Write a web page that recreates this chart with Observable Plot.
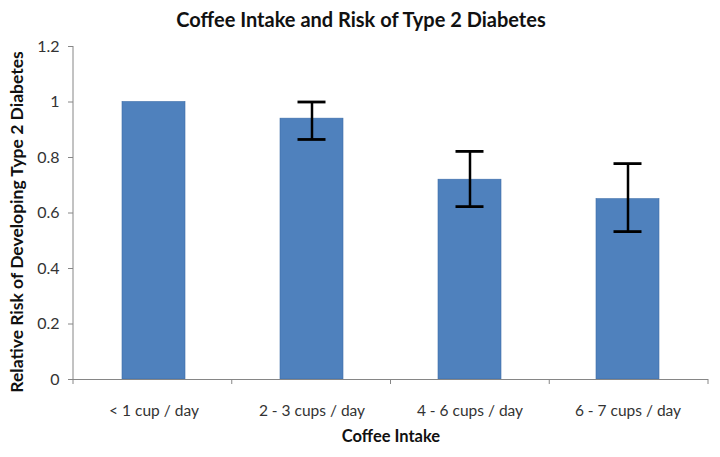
<!DOCTYPE html>
<html><head><meta charset="utf-8">
<script src="https://cdn.jsdelivr.net/npm/d3@7"></script>
<script src="https://cdn.jsdelivr.net/npm/@observablehq/plot@0.6"></script>
<style>body{margin:0;background:#fff}</style>
</head><body><div id="chart"></div>
<script>
const title = "Coffee Intake and Risk of Type 2 Diabetes";
const xTitle = "Coffee Intake";
const yTitle = "Relative Risk of Developing Type 2 Diabetes";
const categories = ["< 1 cup / day", "2 - 3 cups / day", "4 - 6 cups / day", "6 - 7 cups / day"];
const risk = [1.0, 0.94, 0.72, 0.65];
const errLow = [null, 0.865, 0.623, 0.533];
const errHigh = [null, 1.0, 0.822, 0.778];
const yTicks = [0, 0.2, 0.4, 0.6, 0.8, 1, 1.2];

const data = categories.map((c, i) => ({cat: c, risk: risk[i], lo: errLow[i], hi: errHigh[i]}));
const errData = data.filter(d => d.lo != null);
const font = "Lato, 'Open Sans', sans-serif";
const svgns = "http://www.w3.org/2000/svg";

function yAxisLine(index, scales, values, dims) {
  const l = document.createElementNS(svgns, "line");
  l.setAttribute("x1", dims.marginLeft); l.setAttribute("x2", dims.marginLeft);
  l.setAttribute("y1", dims.marginTop); l.setAttribute("y2", dims.height - dims.marginBottom);
  l.setAttribute("stroke", "#868686"); l.setAttribute("stroke-width", 1);
  return l;
}
function xBoundaryTicks(index, scales, values, dims) {
  const g = document.createElementNS(svgns, "g");
  const x0 = dims.marginLeft;
  const yb = dims.height - dims.marginBottom;
  for (let i = 0; i <= categories.length; i++) {
    const l = document.createElementNS(svgns, "line");
    const xx = x0 + (dims.width - dims.marginLeft - dims.marginRight) * i / categories.length;
    l.setAttribute("x1", xx); l.setAttribute("x2", xx);
    l.setAttribute("y1", yb); l.setAttribute("y2", yb + 5);
    l.setAttribute("stroke", "#868686");
    g.appendChild(l);
  }
  return g;
}

const chart = Plot.plot({
  width: 720,
  height: 457,
  marginLeft: 73,
  marginRight: 12,
  marginTop: 46,
  marginBottom: 78,
  style: {fontFamily: font, background: "#fff"},
  x: {domain: categories, paddingInner: 0.6, paddingOuter: 0.3, label: null},
  y: {domain: [0, 1.2], label: null},
  marks: [
    Plot.barY(data, {x: "cat", y: "risk", fill: "#4f81bd", stroke: "#3d6da8", strokeWidth: 0.6}),
    Plot.ruleX(errData, {x: "cat", y1: "lo", y2: "hi", stroke: "#000", strokeWidth: 2.5}),
    Plot.tickY(errData, {x: "cat", y: "hi", stroke: "#000", strokeWidth: 2.8, insetLeft: 17.5, insetRight: 17.5}),
    Plot.tickY(errData, {x: "cat", y: "lo", stroke: "#000", strokeWidth: 2.8, insetLeft: 17.5, insetRight: 17.5}),
    Plot.axisY({ticks: yTicks, tickFormat: d => String(+d.toFixed(1)), tickSize: 5, tickPadding: 9, stroke: "#868686", fill: "#333", fontSize: 16, label: null}),
    Plot.axisX({tickSize: 0, tickPadding: 25, fill: "#333", fontSize: 15.5, label: null}),
    Plot.ruleY([0], {stroke: "#868686"}),
    yAxisLine,
    xBoundaryTicks,
    Plot.text([title], {frameAnchor: "top", dy: -34, dx: -30, fontSize: 20, fontWeight: "bold", fill: "#111"}),
    Plot.text([xTitle], {frameAnchor: "bottom", dy: 62, fontSize: 16.5, fontWeight: "bold", fill: "#111"}),
    Plot.text([yTitle], {frameAnchor: "left", textAnchor: "middle", dx: -56, dy: 9, rotate: -90, fontSize: 17.5, fontWeight: "bold", fill: "#111"})
  ]
});
document.getElementById("chart").appendChild(chart);
</script>
</body></html>
